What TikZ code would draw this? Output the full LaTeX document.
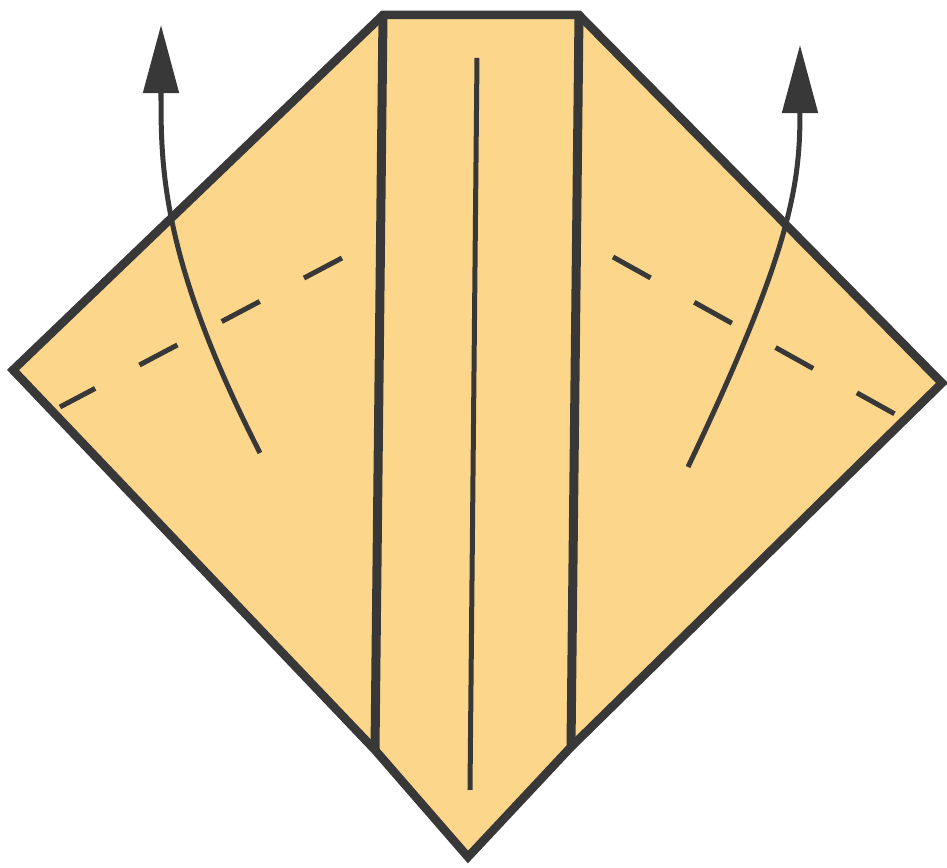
\documentclass[tikz,border=0pt]{standalone}
\usetikzlibrary{arrows.meta}
\definecolor{paper}{RGB}{252,214,138}
\definecolor{ink}{RGB}{56,56,56}
\begin{document}
\begin{tikzpicture}[x=0.01cm,y=-0.01cm]
    % Styles
    \tikzset{
      edge line/.style={ink,line width=0.085cm},
      strip line/.style={ink,line width=0.09cm},
      crease/.style={ink,line width=0.05cm},
      fold line/.style={ink,line width=0.05cm,dash pattern=on 0.43cm off 0.5cm},
      lift arrow/.style={ink,line width=0.05cm,-{Triangle[length=0.68cm,width=0.35cm]}}
    }
    \useasboundingbox (0,0) rectangle (947,868);

    % --- Outline corners ---
    \coordinate (tipL) at (13,370);
    \coordinate (topL) at (383,15);
    \coordinate (topR) at (579,15);
    \coordinate (tipR) at (942,383);
    \coordinate (footL) at (375,750);
    \coordinate (footR) at (571,747);
    \coordinate (bot) at (468,857);

    % Paper
    \filldraw[edge line, fill=paper] (tipL) -- (topL) -- (topR) -- (tipR)
      -- (footR) -- (bot) -- (footL) -- cycle;

    % --- Middle strip ---
    \draw[strip line] (topL) -- (footL);
    \draw[strip line] (topR) -- (footR);

    % Center crease
    \coordinate (creaseT) at (477,58);
    \coordinate (creaseB) at (470,790);
    \draw[crease] (creaseT) -- (creaseB);

    % --- Valley folds ---
    \coordinate (foldL_in) at (342,258);
    \coordinate (foldL_out) at (60,407);
    \coordinate (foldR_in) at (613,257);
    \coordinate (foldR_out) at (902,418);
    \draw[fold line] (foldL_in) -- (foldL_out);
    \draw[fold line] (foldR_in) -- (foldR_out);

    % --- Lift arrows ---
    \coordinate (arrL_s) at (260,453);
    \coordinate (arrL_e) at (161,25);
    \coordinate (arrR_s) at (688,467);
    \coordinate (arrR_e) at (800,45);
    \draw[lift arrow] (arrL_s) .. controls (160,257) and (161,165) .. (arrL_e);
    \draw[lift arrow] (arrR_s) .. controls (791,251) and (800,185) .. (arrR_e);

  \end{tikzpicture}
\end{document}
